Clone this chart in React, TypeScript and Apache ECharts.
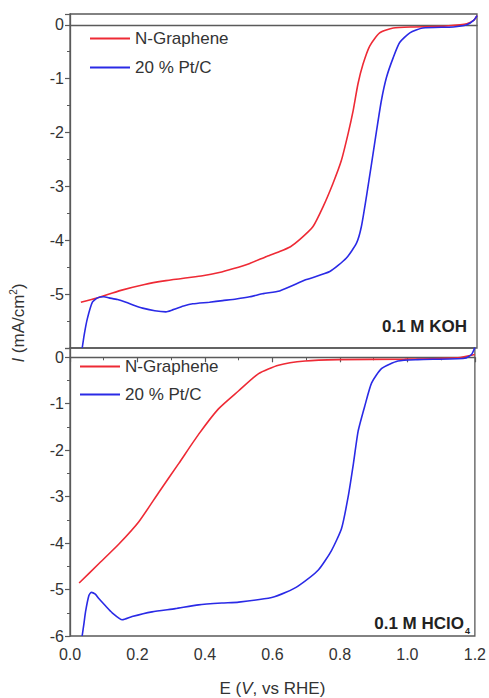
import React, { useEffect, useRef } from "react";
import * as echarts from "echarts";

// ---- Data (E in V vs RHE, I in mA/cm2) ----
const kohNGrapheneE = [0.032, 0.08, 0.15, 0.22, 0.283, 0.34, 0.391, 0.44, 0.48, 0.53, 0.58, 0.618, 0.65, 0.677, 0.716, 0.746, 0.775, 0.8, 0.82, 0.835, 0.849, 0.864, 0.884, 0.913, 0.953, 1.01, 1.09, 1.15, 1.17, 1.19, 1.2];
const kohNGrapheneI = [-5.15, -5.07, -4.93, -4.82, -4.75, -4.7, -4.66, -4.6, -4.53, -4.43, -4.3, -4.21, -4.12, -3.99, -3.75, -3.38, -2.95, -2.52, -2.02, -1.59, -1.1, -0.73, -0.39, -0.15, -0.06, -0.04, -0.03, 0.0, 0.02, 0.08, 0.17];

const kohPtCE = [0.036, 0.042, 0.051, 0.066, 0.081, 0.1, 0.115, 0.14, 0.165, 0.19, 0.214, 0.25, 0.283, 0.3, 0.312, 0.335, 0.362, 0.411, 0.45, 0.49, 0.53, 0.57, 0.618, 0.697, 0.766, 0.815, 0.845, 0.859, 0.874, 0.889, 0.904, 0.918, 0.933, 0.953, 0.972, 1.002, 1.04, 1.13, 1.17, 1.19, 1.2];
const kohPtCI = [-6.0, -5.75, -5.46, -5.15, -5.07, -5.05, -5.07, -5.1, -5.15, -5.21, -5.26, -5.31, -5.33, -5.3, -5.27, -5.22, -5.18, -5.15, -5.12, -5.09, -5.05, -4.99, -4.94, -4.73, -4.58, -4.33, -4.05, -3.75, -3.19, -2.58, -1.96, -1.41, -0.98, -0.61, -0.33, -0.15, -0.06, -0.04, 0.0, 0.08, 0.17];

const acidNGrapheneE = [0.027, 0.086, 0.145, 0.204, 0.263, 0.322, 0.381, 0.44, 0.5, 0.559, 0.618, 0.697, 0.795, 0.992, 1.15, 1.2];
const acidNGrapheneI = [-4.86, -4.44, -4.02, -3.54, -2.91, -2.29, -1.66, -1.11, -0.72, -0.35, -0.17, -0.08, -0.05, -0.04, -0.01, 0.06];

const acidPtCE = [0.036, 0.041, 0.046, 0.056, 0.063, 0.075, 0.086, 0.105, 0.125, 0.155, 0.184, 0.243, 0.312, 0.381, 0.45, 0.5, 0.598, 0.64, 0.677, 0.736, 0.775, 0.805, 0.825, 0.84, 0.854, 0.874, 0.894, 0.924, 0.972, 1.03, 1.17, 1.19, 1.2];
const acidPtCI = [-6.0, -5.75, -5.48, -5.13, -5.06, -5.1, -5.2, -5.35, -5.5, -5.65, -5.58, -5.48, -5.41, -5.33, -5.29, -5.27, -5.17, -5.06, -4.92, -4.58, -4.16, -3.68, -2.98, -2.29, -1.59, -1.04, -0.55, -0.24, -0.08, -0.05, -0.02, 0.06, 0.21];

const seriesNames = ["N-Graphene", "20 % Pt/C"];
const panelLabels = ["0.1 M KOH", "0.1 M HClO{sub|4}"];

const zip = (xs: number[], ys: number[]) => xs.map((x, i) => [x, ys[i]]);

const FONT = "'Liberation Sans', Arial, sans-serif";
const AXIS_COLOR = "#5a5a5a";
const TEXT_COLOR = "#333";
const RED = "#ee2a35";
const BLUE = "#2a2ae6";

export default function App() {
  const ref = useRef<HTMLDivElement>(null);

  useEffect(() => {
    if (!ref.current) return;
    const chart = echarts.init(ref.current, undefined, { renderer: "svg" });

    const yAxisBase = (gridIndex: number, hideMin: boolean) => ({
      gridIndex,
      type: "value",
      min: -6,
      max: 0.2,
      interval: 1,
      axisLine: { show: true, lineStyle: { color: AXIS_COLOR, width: 1.3 } },
      axisTick: { show: true, length: 5, lineStyle: { color: AXIS_COLOR, width: 1.2 } },
      minorTick: { show: true, splitNumber: 2, length: 3, lineStyle: { color: AXIS_COLOR, width: 1 } },
      splitLine: { show: false },
      axisLabel: {
        fontSize: 16,
        fontFamily: FONT,
        color: TEXT_COLOR,
        margin: 6,
        formatter: (v: number) => {
          if (Math.abs(v - Math.round(v)) > 1e-6) return "";
          if (hideMin && v <= -6) return "";
          return String(Math.round(v));
        },
      },
    });

    const lineSeries = (name: string, data: number[][], color: string, idx: number) => ({
      name,
      type: "line",
      xAxisIndex: idx,
      yAxisIndex: idx,
      data,
      symbol: "none",
      showSymbol: false,
      smooth: 0.2,
      lineStyle: { color, width: 1.6 },
      itemStyle: { color },
      clip: true,
    });

    const legendBase = (left: number, top: number, gap: number) => ({
      left,
      top,
      orient: "vertical",
      icon: "rect",
      itemWidth: 40,
      itemHeight: 2,
      itemGap: gap,
      selectedMode: false,
      data: seriesNames,
      textStyle: { fontSize: 17, fontFamily: FONT, color: TEXT_COLOR, lineHeight: 17 },
    });

    chart.setOption({
      animation: false,
      backgroundColor: "#fff",
      grid: [
        { left: 70, right: 12, top: 14, height: 334, show: true, borderColor: AXIS_COLOR, borderWidth: 1.3, backgroundColor: "transparent" },
        { left: 70, right: 12, top: 348, height: 297, show: true, borderColor: AXIS_COLOR, borderWidth: 1.3, backgroundColor: "transparent" },
      ],
      xAxis: [
        {
          gridIndex: 0,
          type: "value",
          min: 0,
          max: 1.2,
          interval: 0.2,
          axisLine: { show: true, lineStyle: { color: AXIS_COLOR, width: 1.3 } },
          axisTick: { show: false },
          axisLabel: { show: false },
          splitLine: { show: false },
        },
        {
          gridIndex: 1,
          type: "value",
          min: 0,
          max: 1.2,
          interval: 0.2,
          axisLine: { show: true, lineStyle: { color: AXIS_COLOR, width: 1.3 } },
          axisTick: { show: true, length: 5, lineStyle: { color: AXIS_COLOR, width: 1.2 } },
          minorTick: { show: true, splitNumber: 2, length: 3, lineStyle: { color: AXIS_COLOR, width: 1 } },
          splitLine: { show: false },
          axisLabel: {
            fontSize: 16,
            fontFamily: FONT,
            color: TEXT_COLOR,
            margin: 10,
            formatter: (v: number) => v.toFixed(1),
          },
          name: "E ({it|V}, vs RHE)",
          nameLocation: "middle",
          nameGap: 44,
          nameTextStyle: {
            fontSize: 17,
            fontFamily: FONT,
            color: TEXT_COLOR,
            rich: { it: { fontSize: 17, fontFamily: FONT, fontStyle: "italic", color: TEXT_COLOR } },
          },
        },
      ],
      yAxis: [yAxisBase(0, true), yAxisBase(1, false)],
      legend: [legendBase(85, 25, 12), legendBase(75, 353, 11)],
      series: [
        lineSeries(seriesNames[0], zip(kohNGrapheneE, kohNGrapheneI), RED, 0),
        lineSeries(seriesNames[1], zip(kohPtCE, kohPtCI), BLUE, 0),
        lineSeries(seriesNames[0], zip(acidNGrapheneE, acidNGrapheneI), RED, 1),
        lineSeries(seriesNames[1], zip(acidPtCE, acidPtCI), BLUE, 1),
      ],
      graphic: [
        {
          type: "text",
          x: 467,
          y: 326,
          style: {
            text: panelLabels[0],
            fontSize: 17,
            fontWeight: "bold",
            fontFamily: FONT,
            fill: "#222",
            align: "right",
            verticalAlign: "middle",
          },
        },
        {
          type: "text",
          x: 470,
          y: 623,
          style: {
            text: panelLabels[1],
            fontSize: 17,
            fontWeight: "bold",
            fontFamily: FONT,
            fill: "#222",
            align: "right",
            verticalAlign: "middle",
            rich: {
              sub: { fontSize: 9, fontWeight: "bold", fontFamily: FONT, fill: "#222", padding: [16, 0, 0, 1], verticalAlign: "bottom" },
            },
          },
        },
        {
          type: "text",
          x: 18,
          y: 323,
          rotation: Math.PI / 2,
          style: {
            text: "{it|I} (mA/cm{sup|2})",
            fontSize: 17,
            fontFamily: FONT,
            fill: TEXT_COLOR,
            align: "center",
            verticalAlign: "middle",
            rich: {
              it: { fontSize: 17, fontFamily: FONT, fontStyle: "italic", fill: TEXT_COLOR },
              sup: { fontSize: 10, fontFamily: FONT, fill: TEXT_COLOR, padding: [0, 0, 10, 0], verticalAlign: "top" },
            },
          },
        },
      ],
    });

    return () => chart.dispose();
  }, []);

  return <div ref={ref} style={{ position: "fixed", left: 0, top: 0, width: 489, height: 698 }} />;
}
